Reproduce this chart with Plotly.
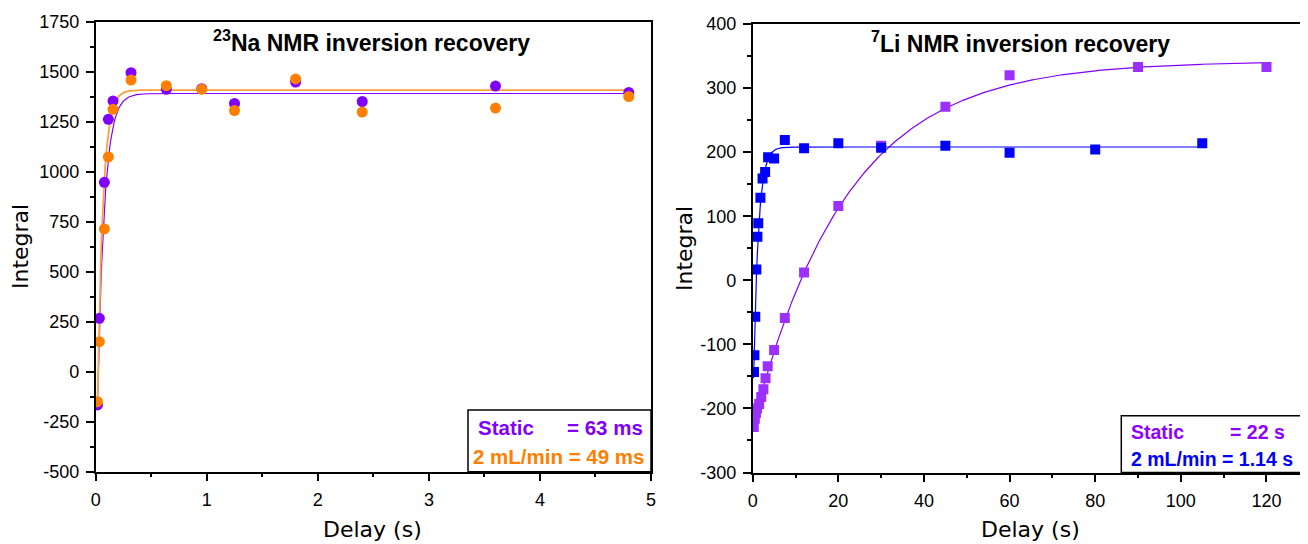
import numpy as np
import plotly.graph_objects as go

# the page places the figure 8px from the top-left corner of the window
OFF = 8
W, H = 1308 - OFF, 544 - OFF

# ---------------- data: 23Na ----------------
na_delay = [0.016, 0.033, 0.078, 0.114, 0.156, 0.318, 0.636, 0.955, 1.25, 1.8, 2.4, 3.6, 4.8]
na_static = [-166, 267, 947, 1262, 1354, 1495, 1412, 1415, 1341, 1448, 1351, 1428, 1396]
na_flow = [-150, 150, 714, 1074, 1312, 1458, 1430, 1412, 1306, 1464, 1298, 1318, 1376]

# fitted recovery parameters (M0, amplitude, T1)
na_static_fit = (1391, 2005, 0.063)
na_flow_fit = (1408, 2161, 0.049)

# ---------------- data: 7Li ----------------
li_delay_static = [0.25, 0.5, 0.75, 1, 1.5, 2, 2.5, 3, 3.5, 5, 7.5, 12, 20, 30, 45, 60, 90, 120]
li_static = [-229, -216, -207, -200, -193, -182, -170, -153, -134, -109, -59, 12, 116, 210, 271, 320, 333, 333]
li_delay_flow = [0.3, 0.4, 0.6, 0.85, 1.1, 1.3, 1.8, 2.3, 2.9, 3.6, 5, 7.5, 12, 20, 30, 45, 60, 80, 105]
li_flow = [-143, -117, -57, 17, 68, 89, 129, 159, 169, 192, 190, 219, 206, 214, 207, 210, 199, 204, 214]

li_static_fit = (342, 569, 22.0)
li_flow_fit = (208, 430, 1.14)

# tick labels
na_xticks = [0, 1, 2, 3, 4, 5]
na_yticks = [-500, -250, 0, 250, 500, 750, 1000, 1250, 1500, 1750]
li_xticks = [0, 20, 40, 60, 80, 100, 120]
li_yticks = [-300, -200, -100, 0, 100, 200, 300, 400]


def lbl(v):
    return ("-" + str(abs(v))) if v < 0 else str(v)


def recovery(params, t0, t1):
    m0, a, t1c = params
    t = np.linspace(t0, t1, 600)
    return t, m0 - a * np.exp(-t / t1c)


NA_PURPLE = "#8000FF"
NA_ORANGE = "#FF8000"
NA_ORANGE_LINE = "#FFA040"
LI_PURPLE = "#9B30FF"
LI_PURPLE_LINE = "#8000FF"
LI_BLUE = "#0000FF"

fig = go.Figure()

# Na fit curves
t, y = recovery(na_static_fit, na_delay[0], na_delay[-1])
fig.add_trace(go.Scatter(x=t, y=y, mode="lines", line=dict(color=NA_PURPLE, width=1.2),
                         xaxis="x", yaxis="y", showlegend=False, hoverinfo="skip"))
t, y = recovery(na_flow_fit, na_delay[0], na_delay[-1])
fig.add_trace(go.Scatter(x=t, y=y, mode="lines", line=dict(color=NA_ORANGE_LINE, width=1.8),
                         xaxis="x", yaxis="y", showlegend=False, hoverinfo="skip"))
fig.add_trace(go.Scatter(x=na_delay, y=na_static, mode="markers", name="Static",
                         marker=dict(symbol="circle", size=11, color=NA_PURPLE),
                         xaxis="x", yaxis="y", showlegend=False))
fig.add_trace(go.Scatter(x=na_delay, y=na_flow, mode="markers", name="2 mL/min",
                         marker=dict(symbol="circle", size=11, color=NA_ORANGE),
                         xaxis="x", yaxis="y", showlegend=False))

# Li fit curves
t, y = recovery(li_static_fit, 0, li_delay_static[-1])
fig.add_trace(go.Scatter(x=t, y=y, mode="lines", line=dict(color=LI_PURPLE_LINE, width=1.2),
                         xaxis="x2", yaxis="y2", showlegend=False, hoverinfo="skip"))
t, y = recovery(li_flow_fit, 0.2, li_delay_flow[-1])
fig.add_trace(go.Scatter(x=t, y=y, mode="lines", line=dict(color=LI_BLUE, width=1.2),
                         xaxis="x2", yaxis="y2", showlegend=False, hoverinfo="skip"))
fig.add_trace(go.Scatter(x=li_delay_static, y=li_static, mode="markers", name="Static",
                         marker=dict(symbol="square", size=10, color=LI_PURPLE),
                         xaxis="x2", yaxis="y2", showlegend=False))
fig.add_trace(go.Scatter(x=li_delay_flow, y=li_flow, mode="markers", name="2 mL/min",
                         marker=dict(symbol="square", size=10, color=LI_BLUE),
                         xaxis="x2", yaxis="y2", showlegend=False))

TICKFONT = dict(family="Liberation Sans, Arial, sans-serif", size=18, color="black")


def axis(domain, rng, tickvals, minor_dtick, anchor, minor_tick0):
    return dict(
        domain=domain, range=rng, anchor=anchor, automargin=False,
        tickmode="array", tickvals=tickvals, ticktext=[lbl(v) for v in tickvals],
        ticks="outside", ticklen=8, tickwidth=1.5, tickcolor="black",
        minor=dict(ticks="outside", ticklen=4, tickwidth=1.5, tickcolor="black",
                   tickmode="linear", tick0=minor_tick0, dtick=minor_dtick),
        showline=True, linecolor="black", linewidth=1.5, mirror=True,
        showgrid=False, zeroline=False, tickfont=TICKFONT,
        ticklabelstandoff=3,
    )


def px_x(p):
    return (p - OFF) / W


def px_y(p):
    return 1 - (p - OFF) / H


fig.update_layout(
    width=W, height=H,
    margin=dict(l=0, r=0, t=0, b=0, autoexpand=False),
    paper_bgcolor="white", plot_bgcolor="white",
    xaxis=axis([px_x(95.7), px_x(651)], [0, 5], na_xticks, 0.5, "y", 0),
    yaxis=axis([px_y(471.7), px_y(21.7)], [-500, 1750], na_yticks, 125, "x", -500),
    xaxis2=axis([px_x(752.7), px_x(1305)], [0, 129], li_xticks, 10, "y2", 0),
    yaxis2=axis([px_y(472.5), px_y(24)], [-300, 400], li_yticks, 50, "x2", -300),
)

TITLEFONT = dict(family="DejaVu Sans, sans-serif", size=22, color="black")
HEADFONT = dict(family="Liberation Sans, Arial, sans-serif", size=23, color="black")
LEGFONT = "Liberation Sans, Arial, sans-serif"
LEGSIZE = 20.5
LEGSIZE_LI = 19.5

annotations = [
    dict(x=px_x(371), y=px_y(41), text="<b><sup>23</sup>Na NMR inversion recovery</b>", font=HEADFONT),
    dict(x=px_x(1020), y=px_y(42), text="<b><sup>7</sup>Li NMR inversion recovery</b>", font=HEADFONT),
    dict(x=px_x(372), y=px_y(529), text="Delay (s)", font=TITLEFONT),
    dict(x=px_x(1030), y=px_y(529), text="Delay (s)", font=TITLEFONT),
    dict(x=px_x(21), y=px_y(247), text="Integral", font=TITLEFONT, textangle=-90),
    dict(x=px_x(684), y=px_y(249), text="Integral", font=TITLEFONT, textangle=-90),
    # Na legend
    dict(x=px_x(476), y=px_y(427), text="<b>Static</b>", xanchor="left",
         font=dict(family=LEGFONT, size=LEGSIZE, color=NA_PURPLE)),
    dict(x=px_x(645), y=px_y(427), text="<b>= 63 ms</b>", xanchor="right",
         font=dict(family=LEGFONT, size=LEGSIZE, color=NA_PURPLE)),
    dict(x=px_x(471), y=px_y(456), text="<b>2 mL/min = 49 ms</b>", xanchor="left",
         font=dict(family=LEGFONT, size=LEGSIZE, color=NA_ORANGE)),
    # Li legend
    dict(x=px_x(1129), y=px_y(432), text="<b>Static</b>", xanchor="left",
         font=dict(family=LEGFONT, size=LEGSIZE_LI, color="#8F00FF")),
    dict(x=px_x(1287), y=px_y(432), text="<b>= 22 s</b>", xanchor="right",
         font=dict(family=LEGFONT, size=LEGSIZE_LI, color="#8F00FF")),
    dict(x=px_x(1129), y=px_y(459), text="<b>2 mL/min = 1.14 s</b>", xanchor="left",
         font=dict(family=LEGFONT, size=LEGSIZE_LI, color=LI_BLUE)),
]
for a in annotations:
    a.setdefault("xanchor", "center")
    a.update(xref="paper", yref="paper", yanchor="middle", showarrow=False)
fig.update_layout(annotations=annotations)

fig.update_layout(shapes=[
    dict(type="rect", xref="paper", yref="paper", x0=px_x(468), x1=px_x(651),
         y0=px_y(471.7), y1=px_y(410), line=dict(color="black", width=1.5), fillcolor="rgba(0,0,0,0)"),
    dict(type="rect", xref="paper", yref="paper", x0=px_x(1121.3), x1=px_x(1312),
         y0=px_y(472.5), y1=px_y(415.7), line=dict(color="black", width=1.5), fillcolor="rgba(0,0,0,0)"),
])

fig.write_html("out.html")
